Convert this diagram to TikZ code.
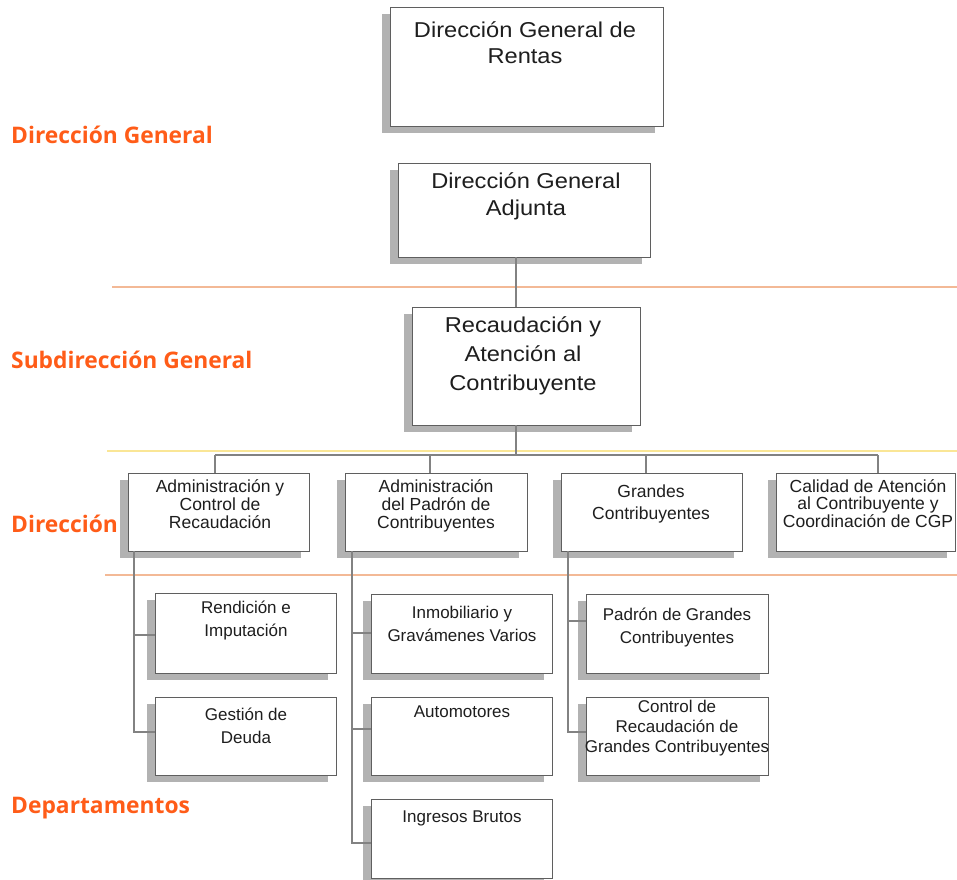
\documentclass[tikz,border=0pt]{standalone}
\usepackage{fontspec}
\setmainfont{Liberation Sans}
\newfontfamily\bigfont{Liberation Sans}[FakeStretch=1.1]
\newfontfamily\lblfont{Open Sans}
\usetikzlibrary{shadows,calc}
\definecolor{lblorange}{RGB}{255,92,24}
\definecolor{divorange}{RGB}{243,185,150}
\definecolor{divyellow}{RGB}{250,230,150}
\definecolor{connector}{RGB}{130,130,130}
\definecolor{boxline}{RGB}{95,95,95}
\definecolor{shadowgray}{RGB}{178,178,178}
\definecolor{txt}{RGB}{30,30,30}
\begin{document}
\begin{tikzpicture}[x=1pt,y=-1pt,
  box/.style={draw=boxline, line width=0.9pt, fill=white, inner sep=0pt,
    drop shadow={shadow xshift=-8pt, shadow yshift=-7pt, fill=shadowgray, opacity=1}},
  tbig/.style={anchor=north, inner sep=0pt, align=center, text=txt, font=\bigfont\fontsize{21.5}{#1}\selectfont},
  tbig/.default=27pt,
  tmid/.style={anchor=north, inner sep=0pt, align=center, text=txt, font=\fontsize{17.5}{#1}\selectfont},
  tmid/.default=20pt,
  tsmall/.style={anchor=north, inner sep=0pt, align=center, text=txt, font=\fontsize{17}{#1}\selectfont},
  tsmall/.default=20pt,
  lvl/.style={anchor=base west, inner sep=0pt, text=lblorange, font=\lblfont\bfseries\fontsize{22.8}{26}\selectfont},
  conn/.style={draw=connector, line width=1.1pt},
  divider/.style={line width=1.1pt}
]
\useasboundingbox (0,0) rectangle (957,879);
\fill[white] (0,0) rectangle (957,879);

% divider lines
\coordinate (d1a) at (112,287); \coordinate (d1b) at (957,287);
\coordinate (d2a) at (107,451); \coordinate (d2b) at (957,451);
\coordinate (d3a) at (105,575); \coordinate (d3b) at (957,575);
\draw[divider, draw=divorange] (d1a) -- (d1b);
\draw[divider, draw=divyellow] (d2a) -- (d2b);
\draw[divider, draw=divorange] (d3a) -- (d3b);

% level labels
\node[lvl] (l1) at (11,143) {Dirección General};
\node[lvl] (l2) at (11,368) {Subdirección General};
\node[lvl] (l3) at (11,532) {Dirección};
\node[lvl] (l4) at (11,813) {Departamentos};

% connector x positions
\coordinate (xm) at (516,0);
\coordinate (xA) at (215,0);
\coordinate (xB) at (430,0);
\coordinate (xC) at (646,0);
\coordinate (xD) at (878,0);
\coordinate (busy) at (0,455);
\coordinate (tA) at (134,0);
\coordinate (tB) at (352,0);
\coordinate (tC) at (568,0);

% top boxes
\node[box, minimum width=273pt, minimum height=119pt] (b1) at (526.5,66.5) {};
\node[box, minimum width=252pt, minimum height=94pt] (b2) at (524,210) {};
\node[box, minimum width=228pt, minimum height=118pt] (b3) at (526,366) {};

% level 3 boxes
\node[box, minimum width=181pt, minimum height=78pt] (cA) at (218.5,512) {};
\node[box, minimum width=182pt, minimum height=78pt] (cB) at (436,512) {};
\node[box, minimum width=181pt, minimum height=78pt] (cC) at (651.5,512) {};
\node[box, minimum width=179pt, minimum height=78pt] (cD) at (865.5,512) {};

% level 4 boxes
\node[box, minimum width=181pt, minimum height=80pt] (dA1) at (245.5,633) {};
\node[box, minimum width=181pt, minimum height=78pt] (dA2) at (245.5,736) {};
\node[box, minimum width=181pt, minimum height=79pt] (dB1) at (461.5,633.5) {};
\node[box, minimum width=181pt, minimum height=78pt] (dB2) at (461.5,736) {};
\node[box, minimum width=181pt, minimum height=79pt] (dB3) at (461.5,838.5) {};
\node[box, minimum width=182pt, minimum height=79pt] (dC1) at (677,633.5) {};
\node[box, minimum width=182pt, minimum height=78pt] (dC2) at (677,736) {};

% connectors
\draw[conn] (b2.south -| xm) -- (b3.north -| xm);
\draw[conn] (b3.south -| xm) -- (busy -| xm);
\draw[conn] (busy -| xA) -- (busy -| xD);
\draw[conn] (busy -| xA) -- (cA.north -| xA);
\draw[conn] (busy -| xB) -- (cB.north -| xB);
\draw[conn] (busy -| xC) -- (cC.north -| xC);
\draw[conn] (busy -| xD) -- (cD.north -| xD);

\coordinate (yA1) at (0,635); \coordinate (yA2) at (0,732);
\draw[conn] (cA.south -| tA) -- (yA2 -| tA) -- (yA2 -| dA2.west);
\draw[conn] (yA1 -| tA) -- (yA1 -| dA1.west);

\coordinate (yB1) at (0,633); \coordinate (yB2) at (0,729); \coordinate (yB3) at (0,843);
\draw[conn] (cB.south -| tB) -- (yB3 -| tB) -- (yB3 -| dB3.west);
\draw[conn] (yB1 -| tB) -- (yB1 -| dB1.west);
\draw[conn] (yB2 -| tB) -- (yB2 -| dB2.west);

\coordinate (yC1) at (0,621); \coordinate (yC2) at (0,732);
\draw[conn] (cC.south -| tC) -- (yC2 -| tC) -- (yC2 -| dC2.west);
\draw[conn] (yC1 -| tC) -- (yC1 -| dC1.west);

% texts
\node[tbig=26pt] (tb1) at (525,{37-21.5}) {\rule{0pt}{1em}Dirección General de\\Rentas};
\node[tbig=27pt] (tb2) at (526,{188-21.5}) {\rule{0pt}{1em}Dirección General\\Adjunta};
\node[tbig=29pt] (tb3) at (523,{332-21.5}) {\rule{0pt}{1em}Recaudación y\\Atención al\\Contribuyente};

\node[tmid=18pt] (tcA) at (220,{492-17.5}) {\rule{0pt}{1em}Administración y\\Control de\\Recaudación};
\node[tmid=18pt] (tcB) at (436,{492-17.5}) {\rule{0pt}{1em}Administración\\del Padrón de\\Contribuyentes};
\node[tmid=22pt] (tcC) at (651,{497-17.5}) {\rule{0pt}{1em}Grandes\\Contribuyentes};
\node[tmid=17.5pt] (tcD) at (868,{492-17.5}) {\rule{0pt}{1em}Calidad de Atención\\al Contribuyente y\\Coordinación de CGP};

\node[tsmall=23pt] (tdA1) at (246,{613-17}) {\rule{0pt}{1em}Rendición e\\Imputación};
\node[tsmall=23pt] (tdA2) at (246,{720-17}) {\rule{0pt}{1em}Gestión de\\Deuda};
\node[tsmall=23pt] (tdB1) at (462,{618-17}) {\rule{0pt}{1em}Inmobiliario y\\Gravámenes Varios};
\node[tsmall] (tdB2) at (462,{717-17}) {\rule{0pt}{1em}Automotores};
\node[tsmall] (tdB3) at (462,{822-17}) {\rule{0pt}{1em}Ingresos Brutos};
\node[tsmall=23pt] (tdC1) at (677,{620-17}) {\rule{0pt}{1em}Padrón de Grandes\\Contribuyentes};
\node[tsmall=20pt] (tdC2) at (677,{712-17}) {\rule{0pt}{1em}Control de\\Recaudación de\\Grandes Contribuyentes};
\end{tikzpicture}
\end{document}
